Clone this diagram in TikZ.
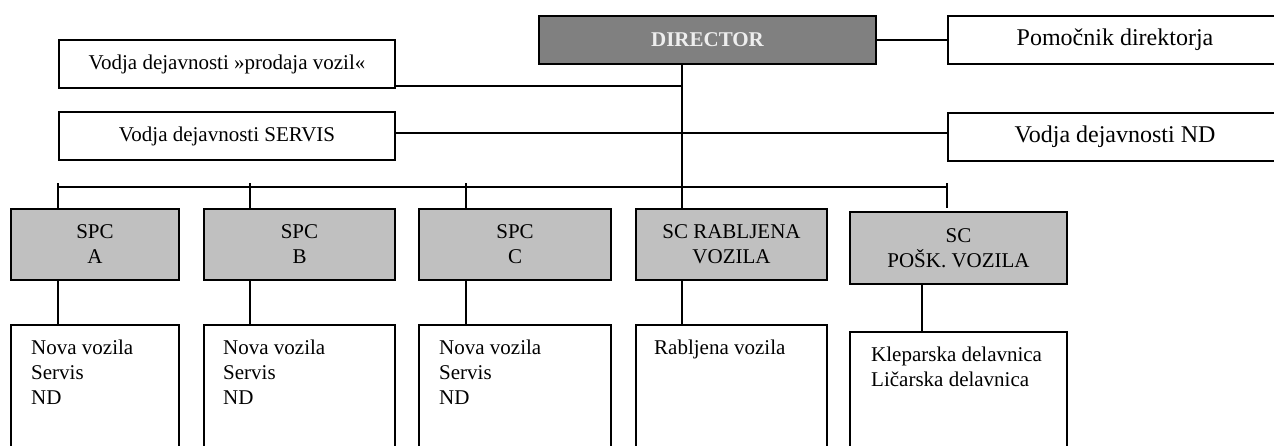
\documentclass[tikz,border=0pt]{standalone}
\usepackage{fontspec}
\setmainfont{Liberation Serif}
\definecolor{dirgray}{HTML}{808080}
\definecolor{spcgray}{HTML}{C0C0C0}
\definecolor{dirtext}{HTML}{EEEEEE}
\begin{document}
\begin{tikzpicture}[x=1pt,y=-1pt,
  font=\fontsize{21}{25}\selectfont,
  box/.style={draw=black, line width=2pt, rectangle, inner sep=0pt, anchor=north west, align=center},
  bigbox/.style={box, font=\fontsize{24}{28}\selectfont},
  spcbox/.style={box, fill=spcgray},
  txt/.style={anchor=north west, align=left, inner sep=0pt},
  conn/.style={draw=black, line width=1.5pt}]
\useasboundingbox (0,0) rectangle (1274,445);
\clip (0,0) rectangle (1274,445);
% top level
\node[box, fill=dirgray, minimum width=337pt, minimum height=48pt, text=dirtext, font=\fontsize{21}{25}\selectfont\bfseries] (dir) at (538,15) {DIRECTOR};
\node[bigbox, minimum width=334pt, minimum height=48pt] (pom) at (947,15) {Pomočnik direktorja};
\node[box, minimum width=336pt, minimum height=48pt] (prod) at (58,39) {Vodja dejavnosti »prodaja vozil«};
\node[box, minimum width=336pt, minimum height=48pt] (serv) at (58,111) {Vodja dejavnosti SERVIS};
\node[bigbox, minimum width=334pt, minimum height=48pt] (nd) at (947,112) {Vodja dejavnosti ND};
% centres
\node[spcbox, minimum width=168pt, minimum height=71pt] (spcA) at (10,208) {SPC\\A};
\node[spcbox, minimum width=191pt, minimum height=71pt] (spcB) at (203,208) {SPC\\B};
\node[spcbox, minimum width=192pt, minimum height=71pt] (spcC) at (418,208) {SPC\\C};
\node[spcbox, minimum width=191pt, minimum height=71pt] (rab) at (635,208) {SC RABLJENA\\VOZILA};
\node[spcbox, minimum width=217pt, minimum height=72pt] (posk) at (849,211) {SC\\POŠK. VOZILA};
% lower boxes
\node[box, minimum width=168pt, minimum height=140pt] (la) at (10,324) {};
\node[box, minimum width=191pt, minimum height=140pt] (lb) at (203,324) {};
\node[box, minimum width=192pt, minimum height=140pt] (lc) at (418,324) {};
\node[box, minimum width=191pt, minimum height=140pt] (lr) at (635,324) {};
\node[box, minimum width=217pt, minimum height=140pt] (lp) at (849,331) {};
\node[txt] (ta) at ([xshift=21pt,yshift=-16pt]la.north west) {Nova vozila\\Servis\\ND};
\node[txt] (tb) at ([xshift=20pt,yshift=-16pt]lb.north west) {Nova vozila\\Servis\\ND};
\node[txt] (tc) at ([xshift=21pt,yshift=-16pt]lc.north west) {Nova vozila\\Servis\\ND};
\node[txt] (tr) at ([xshift=19pt,yshift=-16pt]lr.north west) {Rabljena vozila};
\node[txt] (tp) at ([xshift=22pt,yshift=-16pt]lp.north west) {Kleparska delavnica\\Ličarska delavnica};
% coordinates
\coordinate (trunk) at ([xshift=144pt]dir.south west);
\coordinate (p1) at ([yshift=3pt]prod.south east);
\coordinate (s1) at ([yshift=3pt]serv.east);
\coordinate (busL) at (58,187);
\coordinate (busB) at (250,187);
\coordinate (busC) at (466,187);
\coordinate (busR) at (947,187);
\coordinate (pk) at (922,283);
% connectors
\draw[conn] (dir.east) -- (pom.west);
\draw[conn] (trunk) -- (trunk |- rab.north);
\draw[conn] (p1) -- (p1 -| trunk);
\draw[conn] (s1) -- (s1 -| nd.west);
\draw[conn] (busL) -- (busR);
\draw[conn] ([yshift=4pt]busL) -- (busL |- spcA.north);
\draw[conn] ([yshift=4pt]busB) -- (busB |- spcB.north);
\draw[conn] ([yshift=4pt]busC) -- (busC |- spcC.north);
\draw[conn] ([yshift=4pt]busR) -- ([yshift=-21pt]busR);
\draw[conn] (busL |- spcA.south) -- (busL |- la.north);
\draw[conn] (busB |- spcB.south) -- (busB |- lb.north);
\draw[conn] (busC |- spcC.south) -- (busC |- lc.north);
\draw[conn] (trunk |- rab.south) -- (trunk |- lr.north);
\draw[conn] (pk) -- (pk |- lp.north);
\end{tikzpicture}
\end{document}
